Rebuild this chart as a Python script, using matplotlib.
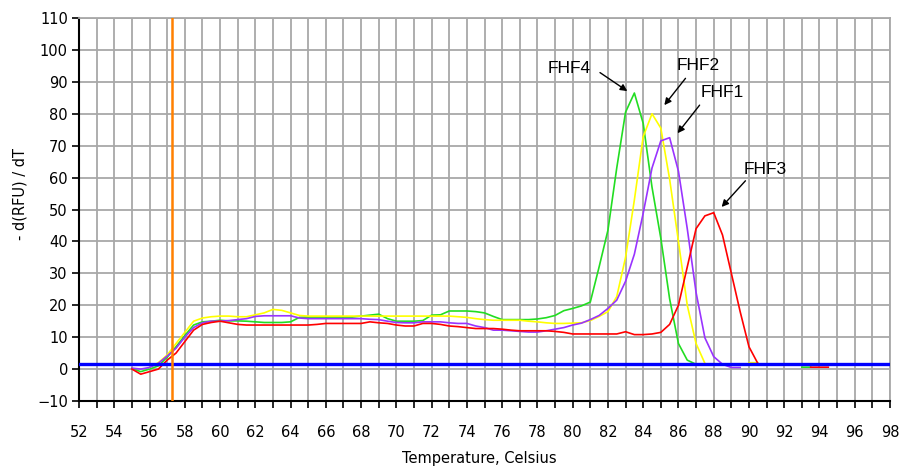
import numpy as np
import matplotlib
matplotlib.use("Agg")
import matplotlib.pyplot as plt
from matplotlib.ticker import MultipleLocator

# ===================== DATA =====================
# temperature grid (0.5 C steps, 55.0 .. 94.5)
temps = np.arange(55.0, 94.75, 0.5)
nan = np.nan

# values, one row = 5 degrees
fhf4_green = [
    0.2, -0.8, 0.0, 1.0, 3.7, 7.0, 10.5, 13.8, 14.8, 15.0,
    15.3, 15.1, 15.1, 15.0, 14.8, 14.6, 14.6, 14.6, 14.8, 16.2,
    16.3, 16.3, 16.3, 16.3, 16.3, 16.3, 16.6, 16.9, 17.2, 15.8,
    15.0, 15.0, 15.0, 15.2, 16.9, 17.0, 18.2, 18.2, 18.2, 18.0,
    17.6, 16.5, 15.5, 15.5, 15.5, 15.5, 15.7, 16.1, 16.8, 18.3,
    19.0, 19.8, 21.0, 32.0, 43.5, 63.0, 80.5, 86.5, 77.0, 57.0,
    41.0, 22.0, 8.0, 2.8, 1.5, nan, nan, nan, nan, nan,
    nan, nan, nan, nan, nan, nan, 0.6, 0.6, nan, nan,
]
fhf2_yellow = [
    nan, nan, 0.5, 2.0, 4.4, 8.0, 11.5, 15.0, 16.0, 16.4,
    16.6, 16.6, 16.4, 16.4, 17.0, 17.6, 18.7, 18.4, 17.6, 16.8,
    16.6, 16.6, 16.6, 16.6, 16.6, 16.6, 16.6, 16.6, 16.6, 16.6,
    16.6, 16.6, 16.6, 16.6, 16.6, 16.6, 16.6, 16.4, 16.2, 15.8,
    15.5, 15.3, 15.3, 15.3, 15.3, 15.0, 14.8, 14.5, 14.3, 14.3,
    14.4, 14.5, 15.2, 16.5, 18.0, 22.7, 35.0, 53.0, 72.8, 80.0,
    75.5, 59.5, 40.0, 20.0, 8.0, 1.8, nan, nan, nan, nan,
    2.0, 2.0, nan, nan, nan, nan, nan, nan, nan, nan,
]
fhf1_purple = [
    0.3, 0.0, 0.5, 1.8, 4.1, 6.5, 10.0, 13.0, 14.5, 15.0,
    15.0, 15.2, 15.5, 15.8, 16.5, 16.7, 16.7, 16.7, 16.7, 16.0,
    15.8, 15.8, 15.8, 15.8, 15.8, 15.8, 15.8, 15.6, 15.5, 15.0,
    14.6, 14.5, 14.5, 14.8, 14.8, 14.8, 14.5, 14.3, 14.3, 13.5,
    13.0, 12.2, 12.2, 12.0, 11.8, 11.6, 11.6, 12.0, 12.5, 13.0,
    13.8, 14.4, 15.5, 16.8, 19.0, 21.6, 27.5, 36.0, 48.8, 63.0,
    71.5, 72.5, 62.0, 44.0, 24.0, 9.8, 3.9, 1.5, 0.5, 0.5,
    nan, nan, nan, nan, nan, nan, nan, nan, nan, nan,
]
fhf3_red = [
    0.0, -1.6, -0.8, 0.0, 2.8, 5.0, 8.6, 12.2, 14.0, 14.6,
    15.0, 14.5, 14.0, 13.8, 13.8, 13.8, 13.8, 13.8, 13.8, 13.8,
    13.8, 14.0, 14.3, 14.3, 14.3, 14.3, 14.3, 14.8, 14.5, 14.3,
    13.8, 13.5, 13.5, 14.3, 14.3, 14.0, 13.5, 13.3, 13.0, 12.7,
    12.7, 12.7, 12.5, 12.2, 12.0, 12.0, 12.0, 12.0, 11.8, 11.5,
    11.0, 11.0, 11.0, 11.0, 11.0, 11.0, 11.7, 10.8, 10.8, 11.0,
    11.5, 14.0, 20.0, 32.0, 44.0, 48.0, 49.0, 42.0, 30.0, 18.0,
    7.0, 1.8, nan, nan, nan, nan, nan, 0.6, 0.6, 0.6,
]

threshold = 1.5
marker_temp = 57.3

# label text, text position, arrow tail, arrow head
labels = ['FHF4', 'FHF2', 'FHF1', 'FHF3']
label_pos = [(79.8, 94.2), (87.1, 95.0), (88.5, 86.6), (90.9, 62.4)]
arrow_tail = [(81.55, 92.9), (86.4, 91.1), (87.2, 82.7), (89.8, 59.0)]
arrow_head = [(83.1, 87.1), (85.2, 82.7), (85.95, 73.9), (88.45, 50.8)]

# ===================== PLOT =====================
fig = plt.figure(figsize=(9.01, 4.69), dpi=100)
ax = fig.add_axes([0.0877, 0.145, 0.9001, 0.8166])

ax.plot(temps, fhf4_green, color='#22dd22', lw=1.2, zorder=3)
ax.plot(temps, fhf2_yellow, color='#ffff00', lw=1.2, zorder=3)
ax.plot(temps, fhf1_purple, color='#9933ff', lw=1.2, zorder=3)
ax.plot(temps, fhf3_red, color='#ff0000', lw=1.2, zorder=3)

ax.axhline(threshold, color='#0000ff', lw=2.4, zorder=4)
ax.axvline(marker_temp, color='#ff8000', lw=1.8, zorder=4)

for txt, tp, tail, head in zip(labels, label_pos, arrow_tail, arrow_head):
    ax.text(tp[0], tp[1], txt, ha='center', va='center', fontsize=12.5,
            family=['Liberation Sans', 'DejaVu Sans'], zorder=5)
    ax.annotate('', xy=head, xytext=tail,
                arrowprops=dict(arrowstyle='-|>', color='black', lw=1.0,
                                mutation_scale=10, shrinkA=0, shrinkB=0),
                zorder=5)

ax.set_xlim(52, 98)
ax.set_ylim(-10, 110)
ax.xaxis.set_major_locator(MultipleLocator(2))
ax.xaxis.set_minor_locator(MultipleLocator(1))
ax.yaxis.set_major_locator(MultipleLocator(10))

ax.grid(True, which='both', color='#a8a8a8', lw=1.3, zorder=0)
ax.set_axisbelow(True)

ax.tick_params(axis='both', which='both', direction='out', length=5, width=1.2,
               color='black', labelsize=10.5)
ax.tick_params(axis='x', which='both', pad=12)
ax.tick_params(axis='y', pad=3)

for side in ['left', 'bottom']:
    ax.spines[side].set_color('black')
    ax.spines[side].set_linewidth(1.5)
for side in ['top', 'right']:
    ax.spines[side].set_color('#a8a8a8')
    ax.spines[side].set_linewidth(1.3)

ax.set_xlabel('Temperature, Celsius', fontsize=10.5)
ax.xaxis.set_label_coords(0.493, -0.13)
ax.set_ylabel('- d(RFU) / dT', fontsize=10.5)
ax.yaxis.set_label_coords(-0.064, 0.54)

fig.savefig('out.png', dpi=100)
